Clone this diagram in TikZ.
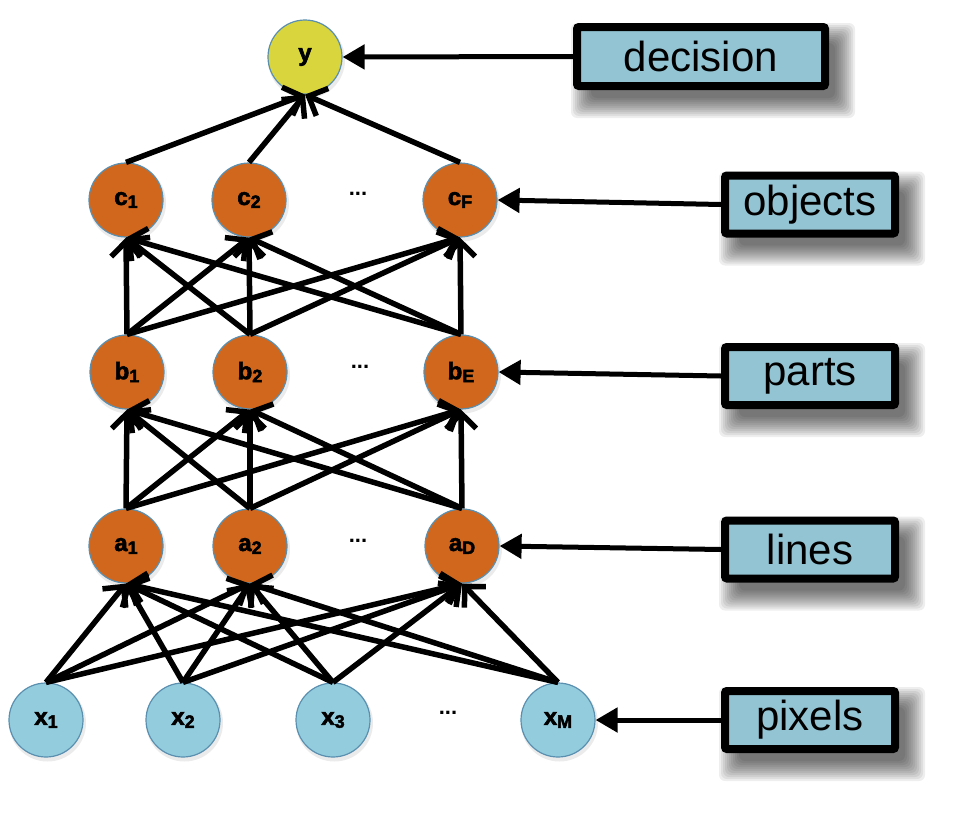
\documentclass[tikz,border=0pt]{standalone}
\usepackage{fontspec}
\setmainfont{Liberation Sans}
\newfontfamily\heavy[FakeBold=2.5]{Liberation Sans Bold}
\usetikzlibrary{arrows.meta,backgrounds,calc}
\definecolor{orng}{RGB}{209,103,29}
\definecolor{lblue}{RGB}{147,205,221}
\definecolor{boxblue}{RGB}{147,196,211}
\definecolor{ylw}{RGB}{217,213,61}
\definecolor{rim}{RGB}{90,143,175}
\newcommand\sub[1]{\raisebox{-3pt}{\fontsize{18}{18}\selectfont #1}}
\begin{document}
\begin{tikzpicture}[x=1pt,y=-1pt,
  unit/.style={circle,draw=rim,line width=1.2pt,minimum size=74pt,inner sep=0pt,font=\heavy\fontsize{24}{26}\selectfont},
  hid/.style={unit,fill=orng},
  inp/.style={unit,fill=lblue},
  outp/.style={unit,fill=ylw},
  tag/.style={draw=black,line width=8pt,fill=boxblue,minimum width=170pt,minimum height=58pt,inner sep=0pt,rounded corners=2pt,font=\fontsize{42}{44}\selectfont},
  net/.style={line width=5.5pt,-{Straight Barb[length=15pt,width=30pt]}},
  point/.style={line width=5pt,-{Triangle[length=22pt,width=24pt]}},
  dotsty/.style={font=\bfseries\fontsize{22}{22}\selectfont,inner sep=0pt}
]
\useasboundingbox (0,0) rectangle (962,825);

% units
\node[outp] (y) at (305,57) {y};
\node[hid] (c1) at (126,200) {c\sub{1}};
\node[hid] (c2) at (249,200) {c\sub{2}};
\node[hid] (cF) at (460,200) {c\sub{F}};
\node[hid] (b1) at (127,372) {b\sub{1}};
\node[hid] (b2) at (250,372) {b\sub{2}};
\node[hid] (bE) at (461,372) {b\sub{E}};
\node[hid] (a1) at (126,546) {a\sub{1}};
\node[hid] (a2) at (250,546) {a\sub{2}};
\node[hid] (aD) at (462,546) {a\sub{D}};
\node[inp] (x1) at (46,720) {x\sub{1}};
\node[inp] (x2) at (183,720) {x\sub{2}};
\node[inp] (x3) at (333,720) {x\sub{3}};
\node[inp] (xM) at (558,720) {x\sub{M}};

% dots
\node[dotsty] (dc) at (358,194) {...};
\node[dotsty] (db) at (360,367) {...};
\node[dotsty] (da) at (358,541) {...};
\node[dotsty] (dx) at (448,713) {...};

% label boxes
\node[tag,minimum width=248pt,minimum height=59pt] (decision) at (701,56.5) {decision};
\node[tag] (objects) at (810,204.5) {objects};
\node[tag] (parts) at (810,376) {parts};
\node[tag] (lines) at (810,549.5) {lines};
\node[tag] (pixels) at (810,720) {pixels};

% shadows
\begin{scope}[on background layer]
\foreach \n in {decision,objects,parts,lines,pixels}{
  \foreach \e in {-6,-4,...,14}{
    \fill[black,opacity=0.065,rounded corners=6pt]
      ($(\n.south west)+(12-\e,14+\e)$) rectangle ($(\n.north east)+(12+\e,14-\e)$);
  }
}
\foreach \n in {y,c1,c2,cF,b1,b2,bE,a1,a2,aD,x1,x2,x3,xM}{
  \fill[black,opacity=0.08] ($(\n)+(1.5,3)$) circle (38.5);
}
\end{scope}

% connections
\foreach \s in {x1,x2,x3,xM}{\foreach \t in {a1,a2,aD}{\draw[net] (\s.north) -- (\t.south);}}
\foreach \s in {a1,a2,aD}{\foreach \t in {b1,b2,bE}{\draw[net] (\s.north) -- (\t.south);}}
\foreach \s in {b1,b2,bE}{\foreach \t in {c1,c2,cF}{\draw[net] (\s.north) -- (\t.south);}}
\foreach \s in {c1,c2,cF}{\draw[net] (\s.north) -- (y.south);}

% pointers
\draw[point] (decision.west) -- (y.east);
\draw[point] (objects.west) -- (cF.east);
\draw[point] (parts.west) -- (bE.east);
\draw[point] (lines.west) -- (aD.east);
\draw[point] (pixels.west) -- (xM.east);
\end{tikzpicture}
\end{document}
